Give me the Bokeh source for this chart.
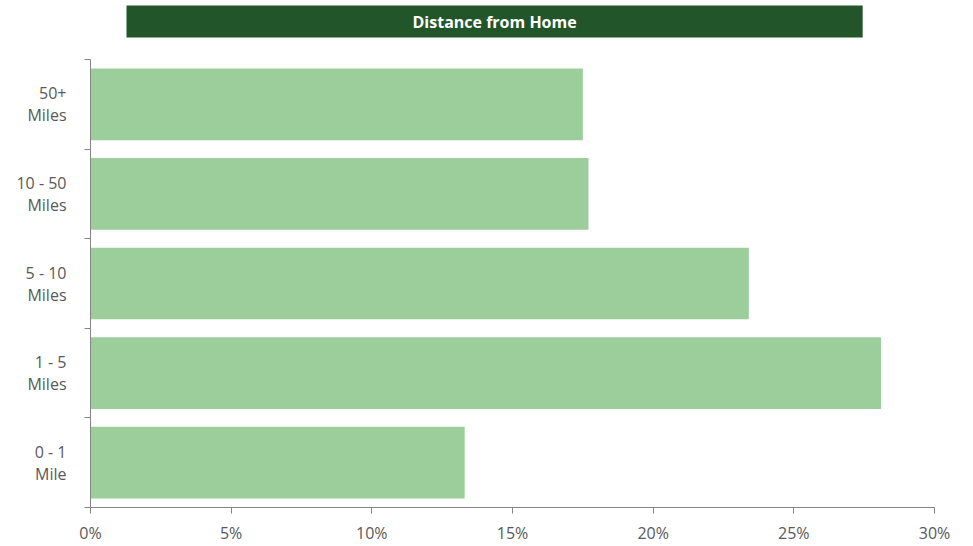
from bokeh.plotting import figure
from bokeh.models import (FixedTicker, NumeralTickFormatter, Title, ColumnDataSource)
from bokeh.embed import file_html
from bokeh.resources import INLINE

# ---- data ----
categories = ["0 - 1\nMile", "1 - 5\nMiles", "5 - 10\nMiles", "10 - 50\nMiles", "50+\nMiles"]
shares = [0.133, 0.281, 0.234, 0.177, 0.175]
x_ticks = [0.0, 0.05, 0.10, 0.15, 0.20, 0.25, 0.30]
chart_title = "Distance from Home"

# ---- styling ----
FONT = "Open Sans"
BAR = "#9BCE9B"
TITLE_BG = "#22562A"
AXIS = "#858585"
LABEL = "#595959"

positions = [i + 0.5 for i in range(len(categories))]
boundaries = list(range(len(categories) + 1))
src = ColumnDataSource(dict(y=positions, right=shares, cat=categories))

title = Title(text=chart_title, align="left", offset=36, standoff=0,
              text_color="white", text_font=FONT, text_font_style="bold",
              text_font_size="16px", background_fill_color=TITLE_BG,
              background_fill_alpha=1.0,
              padding=dict(left=286, right=286, top=5, bottom=5))

p = figure(width=973, height=546, x_range=(0, 0.30), y_range=(0, len(categories)),
           output_backend="svg", toolbar_location=None, title=title,
           min_border_left=90, min_border_right=39, min_border_top=59, min_border_bottom=38)
p.outline_line_color = None
p.grid.grid_line_color = None
p.background_fill_color = "white"
p.border_fill_color = "white"

# invisible spacer between the banner and the plot frame
p.add_layout(Title(text=" ", text_font_size="10px", standoff=9, text_color="white"), "above")

p.hbar(y="y", right="right", left=0, height=0.8, source=src,
       fill_color=BAR, line_color=None)

# x axis
xa = p.xaxis[0]
xa.ticker = FixedTicker(ticks=x_ticks)
xa.formatter = NumeralTickFormatter(format="0%")
xa.axis_line_color = AXIS
xa.major_tick_line_color = AXIS
xa.major_tick_out = 6
xa.major_tick_in = 0
xa.minor_tick_line_color = None
xa.major_label_text_font = FONT
xa.major_label_text_font_size = "16px"
xa.major_label_text_color = LABEL
xa.major_label_standoff = 8

# y axis
ya = p.yaxis[0]
ya.ticker = FixedTicker(ticks=positions, minor_ticks=boundaries)
ya.major_label_overrides = {pos: lab for pos, lab in zip(positions, categories)}
ya.axis_line_color = AXIS
ya.major_tick_line_color = None
ya.major_tick_out = 0
ya.major_tick_in = 0
ya.minor_tick_line_color = AXIS
ya.minor_tick_out = 6
ya.minor_tick_in = 0
ya.major_label_text_font = FONT
ya.major_label_text_font_size = "16px"
ya.major_label_text_color = LABEL
ya.major_label_text_line_height = 1.0
ya.major_label_standoff = 18

open("out.html", "w").write(file_html(p, INLINE))
